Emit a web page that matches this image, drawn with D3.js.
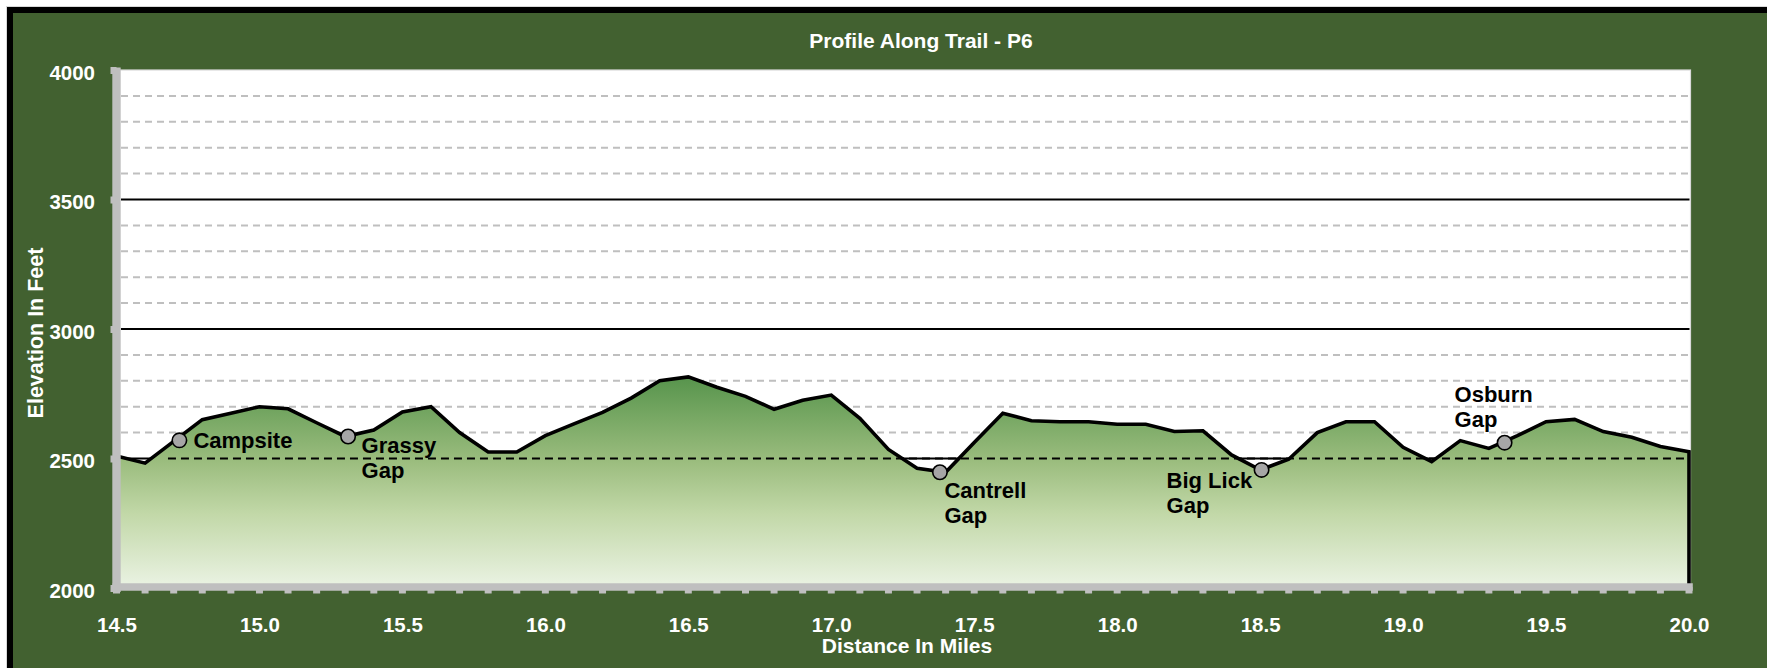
<!DOCTYPE html>
<html><head><meta charset="utf-8">
<script src="https://cdn.jsdelivr.net/npm/d3@7"></script>
<style>
html,body{margin:0;padding:0;background:#fff;}
svg{display:block;}
</style>
</head><body>
<svg id="chart" width="1767" height="668"></svg>
<script>
// ---------- data ----------
const chartTitle = "Profile Along Trail - P6";
const xAxisTitle = "Distance In Miles";
const yAxisTitle = "Elevation In Feet";

const miles = [14.5,14.6,14.7,14.8,14.9,15.0,15.1,15.2,15.3,15.4,15.5,15.6,15.7,15.8,15.9,
  16.0,16.1,16.2,16.3,16.4,16.5,16.6,16.7,16.8,16.9,17.0,17.1,17.2,17.3,17.4,17.5,17.6,17.7,
  17.8,17.9,18.0,18.1,18.2,18.3,18.4,18.5,18.6,18.7,18.8,18.9,19.0,19.1,19.2,19.3,19.4,19.5,
  19.6,19.7,19.8,19.9,20.0];
const elevation = [2510,2482,2566,2650,2675,2700,2692,2638,2585,2610,2680,2700,2600,2525,2525,
  2588,2634,2678,2733,2800,2815,2775,2740,2690,2725,2745,2655,2535,2462,2447,2562,2675,2646,
  2642,2642,2632,2632,2604,2607,2514,2456,2497,2600,2642,2642,2543,2488,2569,2539,2588,2642,
  2651,2604,2582,2546,2526];

const markerNames = [["Campsite"],["Grassy","Gap"],["Cantrell","Gap"],["Big Lick","Gap"],["Osburn","Gap"]];
const markerMiles = [14.72, 15.31, 17.38, 18.505, 19.355];
const markerElev  = [2570, 2585, 2447, 2456, 2561];

const refLineMiles = [14.68, 20.0];
const refLineElev  = [2500, 2500];

const xTickLabels = [14.5,15.0,15.5,16.0,16.5,17.0,17.5,18.0,18.5,19.0,19.5,20.0];
const yTickLabels = [2000,2500,3000,3500,4000];

// label placement relative to its marker (layout, not data)
const labelLayout = [
  {dx: 14, dy: 7.5},
  {dx: 13.5, dy: 16.5},
  {dx: 4.5, dy: 25.6},
  {dx: -95, dy: 17.7},
  {dx: -50, dy: -41}
];

// ---------- drawing ----------
const W = 1767, H = 668;
const svg = d3.select("#chart");
const GREEN = "#426130", AXIS = "#bfbfbf";
const tf = "'Liberation Sans', Arial, sans-serif";

const x = d3.scaleLinear().domain([14.5, 20.0]).range([116.5, 1689]);
const y = d3.scaleLinear().domain([2000, 4000]).range([588, 70]);
const plotL = 121, plotR = 1690.5;

// outer frame
svg.append("rect").attr("x", 6.5).attr("y", 6.5).attr("width", W).attr("height", H)
  .attr("fill", "none").attr("stroke", "#d9d9d9").attr("stroke-width", 1);
svg.append("rect").attr("x", 10).attr("y", 10).attr("width", W + 20).attr("height", H + 20)
  .attr("fill", GREEN).attr("stroke", "#000").attr("stroke-width", 6);

// plot area
svg.append("rect").attr("x", x(14.5)).attr("y", y(4000)).attr("width", plotR - x(14.5))
  .attr("height", y(2000) - y(4000)).attr("fill", "#fff").attr("stroke", "#d9d9d9").attr("stroke-width", 1.2);

// minor gridlines
const allY = y.ticks(20);
svg.append("g").selectAll("line").data(allY.filter(v => v % 500 !== 0)).join("line")
  .attr("x1", plotL).attr("x2", plotR - 1).attr("y1", d => y(d)).attr("y2", d => y(d))
  .attr("stroke", AXIS).attr("stroke-width", 2).attr("stroke-dasharray", "7,5");
// major gridlines
svg.append("g").selectAll("line").data(yTickLabels.filter(v => v > 2000 && v < 4000)).join("line")
  .attr("x1", plotL).attr("x2", plotR - 1).attr("y1", d => y(d)).attr("y2", d => y(d))
  .attr("stroke", "#000").attr("stroke-width", 2);

// gradient
const pts = miles.map((m, i) => [m, elevation[i]]);
const defs = svg.append("defs");
const grad = defs.append("linearGradient").attr("id", "areaGrad")
  .attr("gradientUnits", "userSpaceOnUse").attr("x1", 0).attr("x2", 0)
  .attr("y1", y(d3.max(elevation))).attr("y2", y(2000));
[[0, "#57944c"], [0.4, "#9bbd7e"], [0.65, "#c2d8a8"], [1, "#ebf3e4"]].forEach(([o, c]) =>
  grad.append("stop").attr("offset", o).attr("stop-color", c));

// area
const area = d3.area().x(d => x(d[0])).y0(y(2000)).y1(d => y(d[1]));
svg.append("path").datum(pts).attr("d", area).attr("fill", "url(#areaGrad)");

// reference dashed line at 2500
svg.append("line").attr("x1", x(refLineMiles[0])).attr("x2", x(refLineMiles[1]))
  .attr("y1", y(refLineElev[0])).attr("y2", y(refLineElev[1]))
  .attr("stroke", "#000").attr("stroke-width", 2).attr("stroke-dasharray", "8,5");

// profile outline (incl. right edge)
const outline = pts.concat([[miles[miles.length - 1], 2000]]);
svg.append("path").datum(outline)
  .attr("d", d3.line().x(d => x(d[0])).y(d => y(d[1])))
  .attr("fill", "none").attr("stroke", "#000").attr("stroke-width", 3.6).attr("stroke-linejoin", "miter");

// x axis
const xMinor = x.ticks(55);
const gx = svg.append("g");
gx.selectAll("line.mt").data(xMinor).join("line").attr("class", "mt")
  .attr("x1", d => x(d)).attr("x2", d => x(d)).attr("y1", 587).attr("y2", 593.5)
  .attr("stroke", AXIS).attr("stroke-width", 7);
gx.append("line").attr("x1", 112.5).attr("x2", 1692.8).attr("y1", 587).attr("y2", 587)
  .attr("stroke", AXIS).attr("stroke-width", 7.6);
const xAxis = d3.axisBottom(x).tickValues(xTickLabels).tickFormat(d3.format(".1f")).tickSize(0).tickPadding(30);
const gxl = svg.append("g").attr("transform", `translate(0,${587})`).call(xAxis);
gxl.select(".domain").remove();
gxl.selectAll("text").attr("fill", "#fff").attr("font-family", tf)
  .attr("font-weight", "bold").attr("font-size", 20.5);

// y axis
const yAxis = d3.axisLeft(y).tickValues(yTickLabels).tickFormat(d3.format("d"))
  .tickSize(6).tickPadding(15.5).tickSizeOuter(0);
const gy = svg.append("g").attr("transform", `translate(${x(14.5)},0)`).call(yAxis);
gy.select(".domain").attr("stroke", AXIS).attr("stroke-width", 8.4)
  .attr("d", `M0,${y(2000) + 4}V${y(4000) - 2.5}`);
gy.selectAll(".tick line").attr("stroke", AXIS).attr("stroke-width", 7);
gy.selectAll("text").attr("fill", "#fff").attr("font-family", tf)
  .attr("font-weight", "bold").attr("font-size", 20.5).attr("dy", 9);

// markers
svg.append("g").selectAll("circle").data(markerMiles).join("circle")
  .attr("cx", d => x(d)).attr("cy", (d, i) => y(markerElev[i])).attr("r", 7.2)
  .attr("fill", "#a6a6a6").attr("stroke", "#000").attr("stroke-width", 1.6);

// marker labels (one text element per line)
const lg = svg.append("g");
markerNames.forEach((lines, i) => {
  const L = labelLayout[i];
  lines.forEach((s, k) => lg.append("text")
    .attr("x", x(markerMiles[i]) + L.dx).attr("y", y(markerElev[i]) + L.dy + k * 25.5)
    .attr("font-family", tf).attr("font-weight", "bold").attr("font-size", 22)
    .attr("fill", "#000").text(s));
});

// titles
svg.append("text").attr("x", 921).attr("y", 47.7).attr("text-anchor", "middle")
  .attr("font-family", tf).attr("font-weight", "bold").attr("font-size", 21).attr("fill", "#fff").text(chartTitle);
svg.append("text").attr("x", 907).attr("y", 653.3).attr("text-anchor", "middle")
  .attr("font-family", tf).attr("font-weight", "bold").attr("font-size", 21).attr("fill", "#fff").text(xAxisTitle);
svg.append("text").attr("transform", "translate(43.3,333) rotate(-90)").attr("text-anchor", "middle")
  .attr("font-family", tf).attr("font-weight", "bold").attr("font-size", 21.5).attr("fill", "#fff").text(yAxisTitle);
</script>
</body></html>
